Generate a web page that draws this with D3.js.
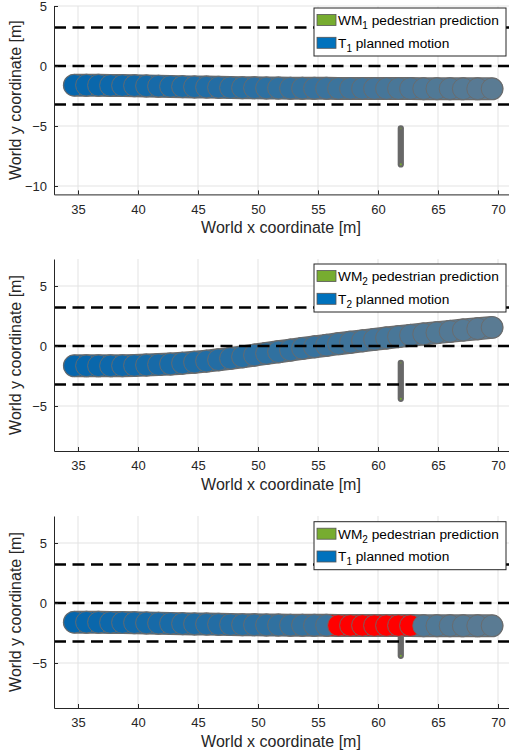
<!DOCTYPE html>
<html>
<head>
<meta charset="utf-8">
<script src="https://cdn.jsdelivr.net/npm/d3@7"></script>
<style>
  body { margin: 0; background: #fff; }
  svg { display: block; font-family: "Liberation Sans", Arial, Helvetica, sans-serif; }
  .grid line { stroke: #e3e3e3; stroke-width: 1; }
  .tick-label { fill: #262626; font-size: 13px; }
  .ax-title { fill: #262626; font-size: 16px; }
  .legend text { fill: #000; font-size: 13.7px; }
</style>
</head>
<body>
<svg id="chart"></svg>
<script>
// ---------------- data ----------------
const xTicks = [35, 40, 45, 50, 55, 60, 65, 70];
const yTicksTop = [-10, -5, 0, 5];
const yTicks = [-5, 0, 5];
const laneY = [3.2, 0, -3.2];

// planned vehicle positions (circle centres, m)
const planX = [34.7, 35.7, 36.7, 37.7, 38.7, 39.7, 40.7, 41.7, 42.7, 43.7,
               44.7, 45.7, 46.7, 47.7, 48.7, 49.7, 50.7, 51.7, 52.7, 53.7,
               54.7, 55.7, 56.7, 57.7, 58.7, 59.7, 60.7, 61.7, 62.7, 63.8,
               64.9, 66.0, 67.1, 68.3, 69.5];
// T1: keep lane
const planY1 = [-1.60, -1.60, -1.61, -1.62, -1.63, -1.64, -1.66, -1.68, -1.70, -1.72,
                -1.74, -1.76, -1.78, -1.80, -1.81, -1.82, -1.83, -1.84, -1.85, -1.85,
                -1.86, -1.86, -1.87, -1.87, -1.87, -1.88, -1.88, -1.88, -1.88, -1.89,
                -1.89, -1.89, -1.90, -1.90, -1.90];
// T2: lane change
const planY2 = [-1.65, -1.65, -1.65, -1.65, -1.64, -1.62, -1.59, -1.55, -1.50, -1.43,
                -1.35, -1.26, -1.15, -1.03, -0.90, -0.76, -0.62, -0.48, -0.34, -0.20,
                -0.07, 0.06, 0.19, 0.31, 0.43, 0.55, 0.67, 0.78, 0.89, 1.00,
                1.11, 1.22, 1.33, 1.44, 1.55];
// indices of T1 circles colliding with WM2 prediction
const collideIdx = [22, 23, 24, 25, 26, 27, 28];

// pedestrian prediction
const pedX = 61.9;
const pedY1 = [-5.2, -5.5, -5.8, -6.1, -6.4, -6.7, -7.0, -7.3, -7.6, -7.9, -8.2];
const pedY2 = [-1.4, -1.7, -2.0, -2.3, -2.6, -2.9, -3.2, -3.5, -3.8, -4.1, -4.4];

const vehR = 0.9, pedR = 0.26;

const panels = [
  {top: 6,   bottom: 194.4, yDomain: [-10.7, 5],    yTicks: yTicksTop, planY: planY1, pedY: pedY1, wm: '1', t: '1', collide: [], legendDy: 2},
  {top: 259, bottom: 451,   yDomain: [-8.75, 7.25], yTicks: yTicks,    planY: planY2, pedY: pedY2, wm: '2', t: '2', collide: [], legendDy: 5},
  {top: 516, bottom: 708,   yDomain: [-8.75, 7.25], yTicks: yTicks,    planY: planY1, pedY: pedY2, wm: '2', t: '1', collide: collideIdx, legendDy: 5.7}
];

// ---------------- drawing ----------------
const width = 509, height = 756;
const left = 54, right = 510;

const svg = d3.select('#chart')
    .attr('width', width)
    .attr('height', height);

const x = d3.scaleLinear().domain([33, 71]).range([left, right]);
const fillScale = d3.scaleLinear()
    .domain([0, planX.length - 1])
    .range(['#0566ad', '#5a7b93'])
    .interpolate(d3.interpolateRgb);

panels.forEach((p, k) => {
  const y = d3.scaleLinear().domain(p.yDomain).range([p.bottom, p.top]);
  const g = svg.append('g').attr('class', 'panel');

  const clipId = 'clip' + k;
  g.append('clipPath').attr('id', clipId)
    .append('rect')
      .attr('x', left).attr('y', p.top)
      .attr('width', right - left).attr('height', p.bottom - p.top);

  // grid
  const grid = g.append('g').attr('class', 'grid');
  grid.selectAll('.gx').data(xTicks).enter().append('line')
      .attr('x1', d => x(d)).attr('x2', d => x(d))
      .attr('y1', p.top).attr('y2', p.bottom);
  grid.selectAll('.gy').data(p.yTicks).enter().append('line')
      .attr('x1', left).attr('x2', right)
      .attr('y1', d => y(d)).attr('y2', d => y(d));

  const plot = g.append('g').attr('clip-path', `url(#${clipId})`);

  // pedestrian prediction: gray swept capsule, green centres at the ends
  const pedLine = d3.line().x(() => x(pedX)).y(d => y(d));
  const pedW = 2 * (x(pedX + pedR) - x(pedX));
  plot.append('path')
      .attr('d', pedLine(p.pedY))
      .attr('fill', 'none')
      .attr('stroke', '#686868')
      .attr('stroke-width', pedW)
      .attr('stroke-linecap', 'round');
  plot.append('g').selectAll('circle')
    .data(p.pedY).enter().append('circle')
      .attr('cx', x(pedX))
      .attr('cy', d => y(d))
      .attr('r', 1.1)
      .attr('fill', '#77ac30')
      .attr('opacity', (d, i) => i === p.pedY.length - 1 ? 0.9 : (i === 0 ? 0.35 : 0));

  // planned motion
  const rPx = x(vehR) - x(0);
  const colorOf = i => p.collide.includes(i) ? '#ff0000' : fillScale(i);
  const segs = planX.slice(1).map((d, i) => i);
  const band = plot.append('g');
  band.selectAll('.outline').data(segs).enter().append('line')
      .attr('x1', i => x(planX[i])).attr('y1', i => y(p.planY[i]))
      .attr('x2', i => x(planX[i + 1])).attr('y2', i => y(p.planY[i + 1]))
      .attr('stroke', '#6c6c6c')
      .attr('stroke-width', 2 * rPx + 1.4)
      .attr('stroke-linecap', 'round');
  band.selectAll('.core').data(segs).enter().append('line')
      .attr('x1', i => x(planX[i])).attr('y1', i => y(p.planY[i]))
      .attr('x2', i => x(planX[i + 1])).attr('y2', i => y(p.planY[i + 1]))
      .attr('stroke', i => colorOf(i + 1))
      .attr('stroke-width', 2 * rPx - 1)
      .attr('stroke-linecap', 'round');
  band.selectAll('circle')
    .data(planX).enter().append('circle')
      .attr('cx', d => x(d))
      .attr('cy', (d, i) => y(p.planY[i]))
      .attr('r', rPx)
      .attr('fill', (d, i) => colorOf(i))
      .attr('stroke', '#6a6a6a')
      .attr('stroke-opacity', 0.9)
      .attr('stroke-width', 1);

  // lane lines
  plot.append('g').selectAll('line')
    .data(laneY).enter().append('line')
      .attr('x1', left).attr('x2', right)
      .attr('y1', d => y(d)).attr('y2', d => y(d))
      .attr('stroke', '#000')
      .attr('stroke-width', 2.5)
      .attr('stroke-dasharray', '12,6.5');

  // axes
  const xAxis = g.append('g')
      .attr('transform', `translate(0,${p.bottom})`)
      .call(d3.axisBottom(x).tickValues(xTicks).tickSizeInner(-4).tickSizeOuter(0).tickPadding(10));
  const yAxis = g.append('g')
      .attr('transform', `translate(${left},0)`)
      .call(d3.axisLeft(y).tickValues(p.yTicks).tickSizeInner(-4).tickSizeOuter(0).tickPadding(7));
  [xAxis, yAxis].forEach(a => {
    a.select('.domain').attr('stroke', '#262626');
    a.selectAll('.tick line').attr('stroke', '#262626');
    a.selectAll('.tick text').attr('class', 'tick-label').attr('font-size', null).attr('font-family', null);
  });

  g.append('text').attr('class', 'ax-title')
      .attr('x', (left + right) / 2 - 1)
      .attr('y', p.bottom + 38.6)
      .attr('text-anchor', 'middle')
      .text('World x coordinate [m]');
  g.append('text').attr('class', 'ax-title')
      .attr('transform', `translate(21,${(p.top + p.bottom) / 2}) rotate(-90)`)
      .attr('text-anchor', 'middle')
      .text('World y coordinate [m]');

  // legend
  const lg = g.append('g').attr('class', 'legend')
      .attr('transform', `translate(314,${p.top + p.legendDy})`);
  lg.append('rect')
      .attr('width', 192).attr('height', 48)
      .attr('fill', '#fff').attr('stroke', '#262626').attr('stroke-width', 1);
  const entries = [
    {color: '#77ac30', main: 'WM', sub: p.wm, rest: ' pedestrian prediction'},
    {color: '#0072bd', main: 'T', sub: p.t, rest: ' planned motion'}
  ];
  entries.forEach((e, j) => {
    const cy = 12 + j * 22.8;
    lg.append('rect')
        .attr('x', 3).attr('y', cy - 5.5)
        .attr('width', 19).attr('height', 11)
        .attr('fill', e.color).attr('stroke', '#555').attr('stroke-width', 0.8);
    const t = lg.append('text').attr('x', 24).attr('y', cy + 5);
    t.append('tspan').text(e.main);
    t.append('tspan').attr('dy', 4).attr('font-size', '10px').text(e.sub);
    t.append('tspan').attr('dy', -4).text(e.rest);
  });
});
</script>
</body>
</html>
